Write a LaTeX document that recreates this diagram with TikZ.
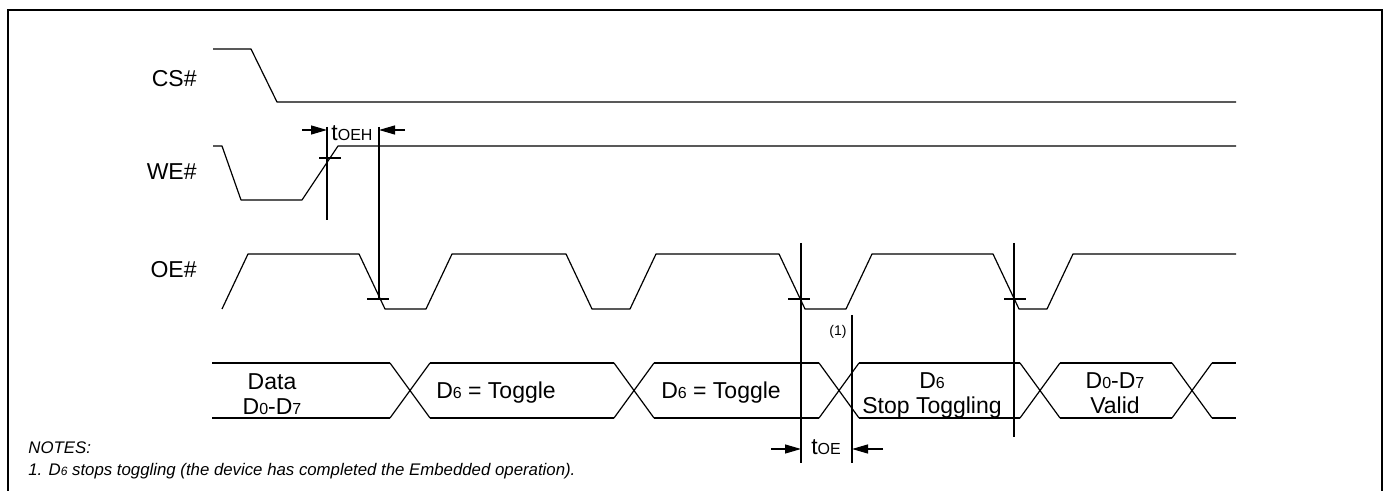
\documentclass[tikz,border=0pt]{standalone}
\usepackage{fontspec}
\setmainfont{Liberation Sans}
\usetikzlibrary{arrows.meta}
\newcommand{\lo}[1]{{\fontsize{8}{8}\selectfont #1}}
\newcommand{\nlo}[1]{{\fontsize{6}{6}\selectfont #1}}
\tikzset{%
  signal/.style={
    line width=0.6pt,
    line join=round
  },
  marker/.style={
    line width=0.6pt
  },
  sig label/.style={
    anchor=east,
    inner sep=0pt,
    font=\fontsize{11.5}{12.5}\selectfont
  },
  bus label/.style={
    align=center,
    anchor=north,
    inner sep=0pt,
    font=\fontsize{11.5}{12.5}\selectfont
  },
  note/.style={
    anchor=base west,
    inner sep=0pt,
    font=\fontsize{8.4}{10}\selectfont\itshape
  },
}

\begin{document}
\begin{tikzpicture}[x=0.5pt, y=-0.5pt, >={Triangle[length=8pt,width=4.5pt]}]
        \useasboundingbox (0,0) rectangle (1385,491);
        \draw [line width=0.8pt] (8,495) -- (8,10) -- (1382,10) -- (1382,495);

        % signal names
        \node [sig label] (cs-label) at (197,79) {CS\#};
        \node [sig label] (we-label) at (197,172) {WE\#};
        \node [sig label] (oe-label) at (197,270) {OE\#};

        % CS# and WE#
        \draw [signal] (213,49) -- (251,49) -- (277,102) -- (1236,102);
        \draw [signal] (213,146) -- (222,146) -- (241,200) -- (302,200) -- (338,146) -- (1236,146);

        % OE# toggling
        \draw [signal] (222,309) -- (248,254)
          \foreach \f/\r in {359/426, 566/630, 779/846, 993/1047}
            { -- (\f,254) -- ++(26,55) -- (\r,309) -- ++(26,-55) }
          -- (1236,254);

        % data bus
        \foreach \a/\b in {212/390, 430/614, 654/819, 859/1020, 1060/1172, 1212/1236}
          \draw [signal] (\a,363) -- (\b,363) (\a,418) -- (\b,418);

        \foreach \c in {410, 634, 839, 1040, 1192}
          \draw [signal] (\c-20,363) -- (\c+20,418) (\c-20,418) -- (\c+20,363);

        \node [bus label] (data) at (272,373) {Data\\D\lo{0}-D\lo{7}};
        \node [bus label, anchor=base] (toggle-1) at (496,398) {D\lo{6} = Toggle};
        \node [bus label, anchor=base] (toggle-2) at (721,398) {D\lo{6} = Toggle};
        \node [bus label] (stop) at (932,372) {D\lo{6}\\Stop Toggling};
        \node [bus label] (valid) at (1115,372) {D\lo{0}-D\lo{7}\\Valid};

        % timing markers
        \coordinate (oeh-l) at (327,130);
        \coordinate (oeh-r) at (379,130);
        \coordinate (toe-l) at (801,449);
        \coordinate (toe-r) at (852,449);
        \coordinate (oeh-l-in) at (302,130);
        \coordinate (oeh-r-in) at (405,130);
        \coordinate (toe-l-in) at (771,449);
        \coordinate (toe-r-in) at (883,449);

        \draw [marker] (327,127) -- (327,220);
        \draw [marker] (379,127) -- (379,299);
        \draw [marker] (801,243) -- (801,463);
        \draw [marker] (852,315) -- (852,463);
        \draw [marker] (1014,243) -- (1014,437);

        \foreach \x/\y in {330/158, 378/299, 799/299, 1015/299}
          \draw [marker] (\x-11,\y) -- (\x+11,\y);

        \draw [marker, ->] (oeh-l-in) -- (oeh-l);
        \draw [marker, ->] (oeh-r-in) -- (oeh-r);
        \draw [marker, ->] (toe-l-in) -- (toe-l);
        \draw [marker, ->] (toe-r-in) -- (toe-r);

        \node [inner sep=0pt, font=\fontsize{11.5}{12.5}\selectfont] (toeh) at (352,133) {t\lo{OEH}};
        \node [inner sep=0pt, font=\fontsize{11.5}{12.5}\selectfont] (toe) at (826,447) {t\lo{OE}};
        \node [inner sep=0pt, font=\fontsize{7}{7}\selectfont] (fn-mark) at (838,332) {(1)};

        % notes
        \node [note] (notes) at (28,453) {NOTES:};
        \node [note] (note-1) at (28,475) {1. D\nlo{6} stops toggling (the device has completed the Embedded operation).};
\end{tikzpicture}
\end{document}
